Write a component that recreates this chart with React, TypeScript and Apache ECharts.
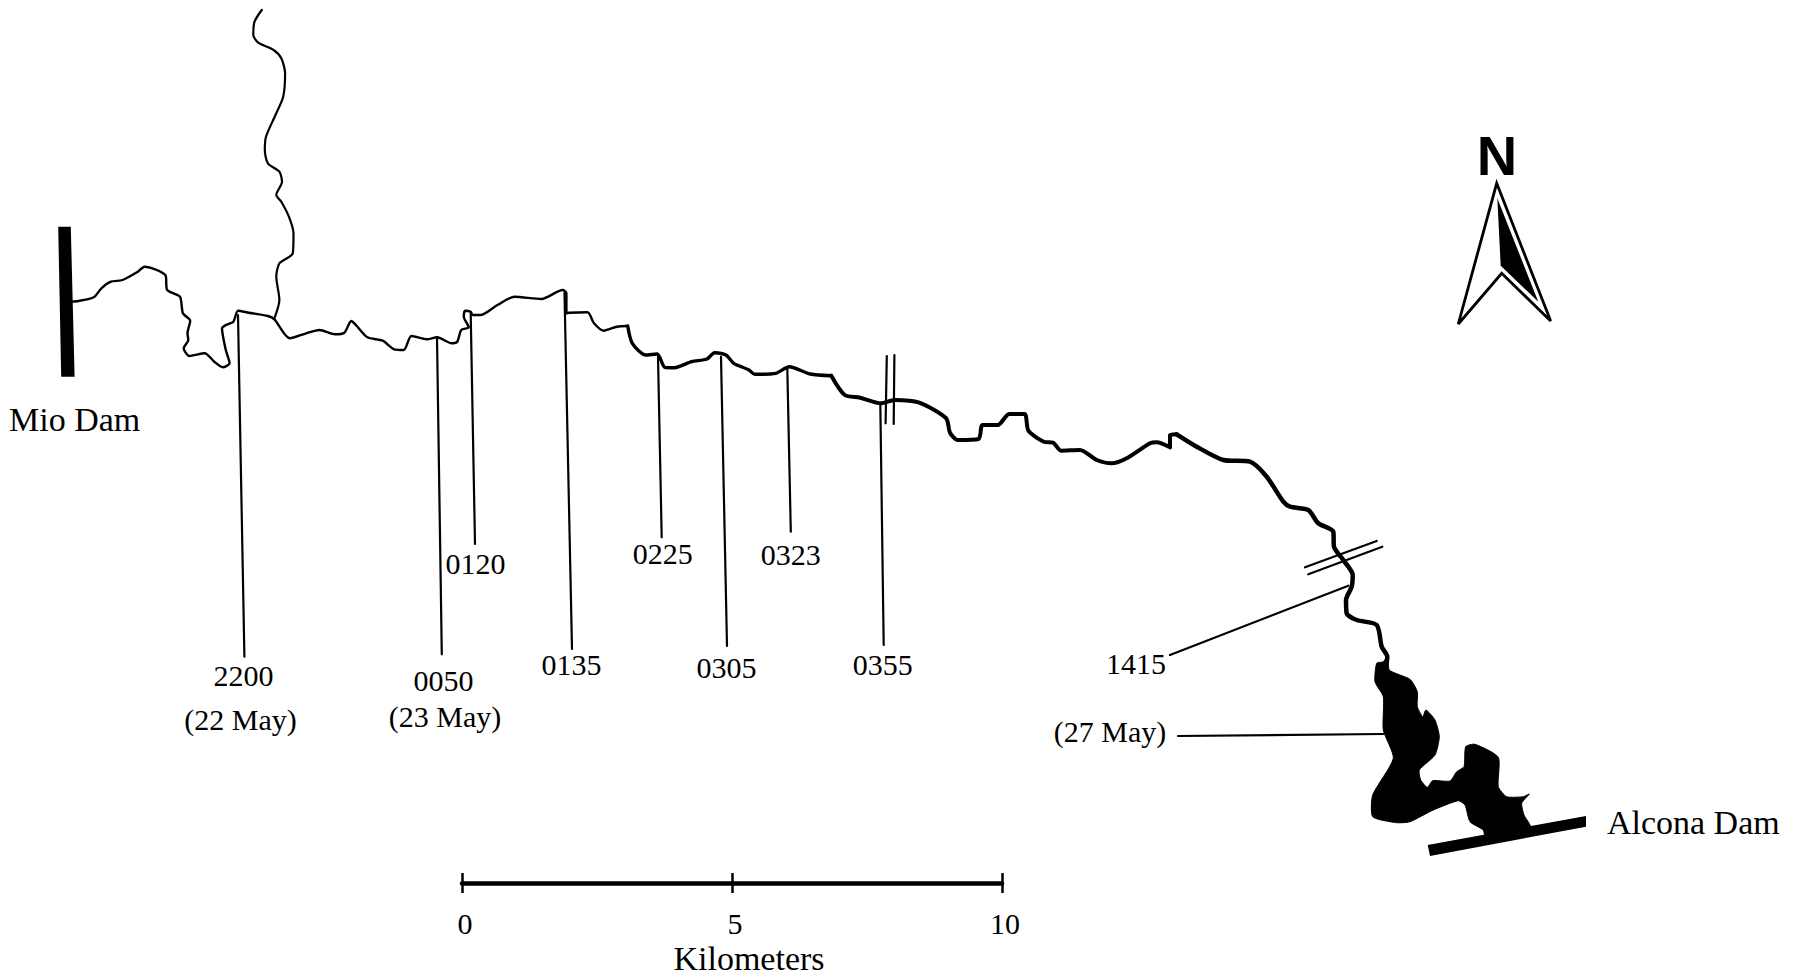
import { useEffect, useRef } from "react";
import * as echarts from "echarts";

type Pt = [number, number];

const WIDTH = 1798;
const HEIGHT = 977;

// river reaches, west to east, map units
const tributary: Pt[] = [
  [261.8, 10], [254.5, 21.7], [253.3, 35], [258.3, 42.7], [273.6, 50], [281.3, 58.3], [285.1, 73.3],
  [283.2, 96.7], [275.5, 115], [266, 136.7], [264.8, 150], [267.9, 163.3], [279.4, 171.7], [282, 181.7],
  [276.3, 195], [281.3, 201.7], [288.9, 216.7], [293.5, 233.3], [292.8, 253.3], [279.4, 263.3],
  [276.3, 276.7], [279.4, 300], [274.4, 318.3],
];
const upperReach: Pt[] = [
  [70.8, 301.7], [78.5, 301], [93.8, 297.3], [101.4, 288.3], [111, 281.7], [122.5, 280], [137.8, 271.7],
  [144.7, 266.7], [165.3, 275], [167.2, 290], [179.9, 296.7], [182.9, 313.3], [190.2, 320.7], [187.5, 333.3],
  [188.3, 340], [183.7, 348.3], [189.4, 356], [204.7, 353.3], [214.3, 361.7], [222.7, 367.3], [229.6, 363.3],
  [225.8, 350], [222, 328.3], [225.8, 325], [233.4, 321.7], [238, 310.7], [248.8, 312.7], [267.9, 316],
  [274.4, 319.3], [289.7, 338.3], [306.2, 333.3], [319.6, 330], [334.9, 334.3], [344.4, 332.7], [351.3, 321],
  [355.9, 325], [367.4, 337.3], [382.7, 340.7], [394.2, 349.3], [403.8, 350], [411.4, 336], [426.7, 339.3],
  [437, 337.3], [451.6, 343.3], [457.3, 341.7], [461.2, 330], [468.8, 327.3], [463.8, 316.7], [465, 310.7],
  [470.7, 311.7], [472.6, 315], [480.3, 315], [497.5, 305], [514.7, 296.7], [541.5, 299], [562.6, 290],
  [566.4, 293.3], [566.4, 313.3], [569, 312.7], [587.5, 312.3], [594, 323.3], [603.6, 330.7], [617, 326.7],
  [627.7, 326],
];
const middleReach: Pt[] = [
  [627.7, 326], [632.3, 343.3], [645.7, 355], [657.2, 354], [664.8, 367.3], [674.4, 367.7], [691.6, 361.7],
  [706.9, 359], [714.6, 352.7], [726, 355], [733.7, 363.3], [749, 370], [754.7, 374.3], [775.8, 373.3],
  [789.2, 366.7], [810.2, 374], [831.3, 375.7],
];
const lowerReach: Pt[] = [
  [831.3, 375.7], [844.7, 395], [860, 397.7], [881, 403.3], [894.4, 400], [919.3, 402.7], [946.1, 418.3],
  [950, 432.7], [957.6, 440], [978.6, 439], [982.5, 425], [997.8, 425], [1009.2, 414], [1024.6, 414],
  [1028.4, 430.7], [1043.7, 441.7], [1053.3, 442.7], [1060.9, 450.7], [1080, 450], [1096.7, 460],
  [1111.7, 463.3], [1126.7, 458.3], [1150, 443.3], [1156.7, 442.3], [1170, 447.3], [1170, 435], [1176.7, 434.3],
];
const finalReach: Pt[] = [
  [1176.7, 434.3], [1196.7, 446.7], [1223.3, 460], [1250, 461.7], [1266.7, 476.7], [1283.3, 501.7],
  [1290, 506.7], [1308.3, 510], [1318.3, 523.3], [1333.3, 531.7], [1334, 546.7], [1343.3, 560], [1352.7, 575],
  [1351.7, 586.7], [1346, 600], [1346.7, 613.3], [1356.7, 620], [1376.7, 625], [1381.7, 646.7], [1387.3, 656.7],
  [1386, 666.7],
];

const reservoir: Pt[] = [
  [1388.3, 655], [1389.3, 670], [1410, 679.3], [1417.3, 691.7], [1417.3, 706.7], [1422.7, 716.7], [1426, 710],
  [1435, 720], [1439.3, 736.7], [1435, 755], [1419.3, 770], [1420.7, 780], [1427.3, 787.3], [1432.7, 780.7],
  [1450, 781], [1456.7, 771.7], [1464, 766.7], [1465.7, 746.7], [1475, 744.3], [1498.3, 757.3], [1498.3, 786.7],
  [1506.7, 796.7], [1523.3, 796.7], [1529.3, 794], [1521.7, 803.3], [1524, 815], [1530, 826.7], [1485, 835],
  [1483.3, 830], [1470, 821.7], [1465, 805], [1458.3, 800.7], [1433.3, 810], [1410, 821.7], [1396.7, 822.7],
  [1372.7, 816.7], [1372.7, 795], [1393.3, 758.3], [1383.3, 730], [1383.3, 696.7], [1375, 681.7], [1376.7, 663.3],
  [1383.3, 661.7],
];
const mioDam: Pt[] = [[58.2, 226.7], [70.8, 226.7], [74.6, 376.7], [61.2, 376.7]];
const alconaDam: Pt[] = [[1427.7, 845], [1586, 816], [1586, 826.7], [1430, 856]];

// time leaders: river point down to the label
const leaderLines: Pt[][] = [
  [[238, 315], [244.4, 656.7]],
  [[437, 337.3], [441.8, 654.3]],
  [[470.7, 313], [475, 544]],
  [[564.5, 293], [572, 649]],
  [[658, 356.7], [661.7, 537.3]],
  [[721, 356.7], [727, 646]],
  [[787.3, 368.3], [790.8, 531.7]],
  [[880.3, 403.3], [883.7, 645]],
  [[1170, 655], [1348.3, 585.7]],
  [[1178, 736], [1383.3, 734]],
];
const roadCrossings: Pt[][] = [
  [[886.8, 356], [885.6, 423.3]],
  [[894.4, 355], [893.7, 424]],
  [[1305, 567.3], [1376.7, 541]],
  [[1308.3, 574.3], [1382.3, 546.7]],
];

const timeLabels: [string, number, number][] = [
  ["2200", 243.4, 675],
  ["(22 May)", 240.5, 719],
  ["0050", 443.4, 680],
  ["(23 May)", 445, 716],
  ["0120", 475.5, 563.3],
  ["0135", 571.4, 664],
  ["0225", 662.8, 553.3],
  ["0305", 726.5, 667.3],
  ["0323", 790.8, 554.3],
  ["0355", 882.7, 664.3],
  ["1415", 1136, 663.3],
  ["(27 May)", 1110, 731],
];
const placeLabels: [string, number, number][] = [
  ["Mio Dam", 74.6, 419.3],
  ["Alcona Dam", 1693.3, 822.7],
  ["Kilometers", 749, 958],
];

const arrowOutline: Pt[] = [[1496.7, 183.3], [1550.7, 321], [1501.7, 273.3], [1458.3, 324]];
const arrowShade: Pt[] = [[1497.3, 198.3], [1538.3, 301.7], [1500.7, 265.7]];

function lineSeries(data: Pt[], width: number, smooth: number | boolean = 0.25) {
  return {
    type: "line" as const,
    data,
    smooth,
    symbol: "none",
    silent: true,
    lineStyle: { color: "#000", width, cap: "round" as const, join: "round" as const },
  };
}

function polygonSeries(points: Pt[], style: Record<string, unknown>, smooth = 0) {
  return {
    type: "custom" as const,
    silent: true,
    clip: false,
    data: [points[0]],
    renderItem: (_: unknown, api: any) => ({
      type: "polygon",
      shape: { points: points.map((p) => api.coord(p)), smooth },
      style,
    }),
  };
}

function labelSeries(items: [string, number, number][], font: Record<string, unknown>) {
  return {
    type: "scatter" as const,
    silent: true,
    symbolSize: 0,
    itemStyle: { opacity: 1 },
    data: items.map(([name, x, y]) => ({ name, value: [x, y] })),
    label: {
      show: true,
      position: "inside" as const,
      align: "center" as const,
      verticalAlign: "middle" as const,
      formatter: "{b}",
      color: "#000",
      ...font,
    },
  };
}

export default function App() {
  const chartRef = useRef<HTMLDivElement>(null);

  useEffect(() => {
    if (!chartRef.current) return;
    const chart = echarts.init(chartRef.current, null, { renderer: "svg" });
    const serif = "'Liberation Serif', serif";

    chart.setOption({
      animation: false,
      backgroundColor: "#fff",
      grid: [
        { left: 0, top: 0, width: WIDTH, height: HEIGHT },
        // scale bar
        { left: 462, top: 883, width: 540, height: 0 },
      ],
      xAxis: [
        { type: "value", gridIndex: 0, min: 0, max: WIDTH, show: false },
        {
          type: "value",
          gridIndex: 1,
          min: 0,
          max: 10,
          interval: 5,
          position: "bottom",
          axisLine: { lineStyle: { color: "#000", width: 4.5 } },
          axisTick: { length: 10, lineStyle: { color: "#000", width: 2.5 } },
          axisLabel: { color: "#000", fontFamily: serif, fontSize: 30, margin: 25, padding: [0, 0, 0, 6] },
          splitLine: { show: false },
        },
        {
          type: "value",
          gridIndex: 1,
          min: 0,
          max: 10,
          interval: 5,
          position: "top",
          axisLine: { show: false },
          axisTick: { length: 10, lineStyle: { color: "#000", width: 2.5 } },
          axisLabel: { show: false },
          splitLine: { show: false },
        },
      ],
      yAxis: [
        { type: "value", gridIndex: 0, min: 0, max: HEIGHT, inverse: true, show: false },
        { type: "value", gridIndex: 1, min: 0, max: 1, show: false },
      ],
      series: [
        lineSeries(tributary, 2.2),
        lineSeries(upperReach, 2.4),
        lineSeries(middleReach, 3.4),
        lineSeries(lowerReach, 4),
        lineSeries(finalReach, 4.5),
        ...leaderLines.map((seg) => lineSeries(seg, 2.2, false)),
        ...roadCrossings.map((seg) => lineSeries(seg, 2.2, false)),
        polygonSeries(reservoir, { fill: "#000", stroke: "#000", lineWidth: 1 }, 0.2),
        polygonSeries(mioDam, { fill: "#000" }),
        polygonSeries(alconaDam, { fill: "#000" }),
        polygonSeries(arrowOutline, { fill: "#fff", stroke: "#000", lineWidth: 2.8 }),
        polygonSeries(arrowShade, { fill: "#000" }),
        labelSeries(timeLabels, { fontFamily: serif, fontSize: 30 }),
        labelSeries(placeLabels, { fontFamily: serif, fontSize: 34 }),
        labelSeries([["N", 1497, 155.5]], { fontFamily: "'Liberation Sans', sans-serif", fontSize: 56, fontWeight: "bold" }),
      ],
    });

    return () => {
      chart.dispose();
    };
  }, []);

  return <div ref={chartRef} style={{ position: "absolute", left: 0, top: 0, width: WIDTH, height: HEIGHT }} />;
}
